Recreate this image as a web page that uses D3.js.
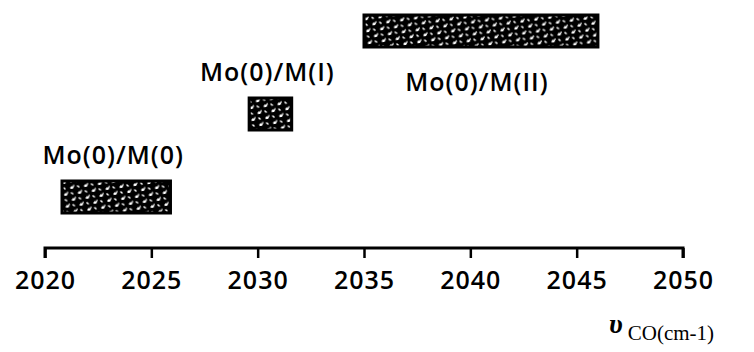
<!DOCTYPE html>
<html><head><meta charset="utf-8">
<script src="https://cdn.jsdelivr.net/npm/d3@7"></script>
<style>
html,body{margin:0;padding:0;background:#fff;}
svg{display:block;}
.lbl{font-family:"Open Sans",sans-serif;font-size:25px;font-weight:600;fill:#000;letter-spacing:1px;}
</style></head>
<body>
<svg id="c" width="754" height="352"></svg>
<script>
const categories = ["Mo(0)/M(0)", "Mo(0)/M(I)", "Mo(0)/M(II)"];
const startValues = [2020.8, 2029.6, 2035.0];
const endValues = [2025.9, 2031.6, 2046.0];
const labelSide = ["above", "above", "below"];
const tickValues = [2020, 2025, 2030, 2035, 2040, 2045, 2050];
const axisTitleSymbol = "υ";
const axisTitleSub = "CO(cm-1)";

const svg = d3.select("#c");
const x = d3.scaleLinear().domain([2020, 2050]).range([45, 683]);
const y = d3.scalePoint().domain(categories).range([197, 31]);
const barH = 32;

// pattern: black with irregular white speckles
const defs = svg.append("defs");
const pat = defs.append("pattern").attr("id","speck").attr("patternUnits","userSpaceOnUse")
  .attr("width",14).attr("height",12).attr("patternTransform","rotate(-8)");
pat.append("rect").attr("width",14).attr("height",12).attr("fill","#000");
pat.append("path")
  .attr("d","M1,4 L3,2 L4,3 L5,1 L6,2 L4,5 L2,5 Z M8,10 L10,8 L11,9 L12,7 L13,8 L11,11 L9,11 Z M8,3 L9,2 L11,4 L10,5 Z M1,9 L2,8 L4,10 L3,11 Z")
  .attr("fill","#fff");

const data = categories.map((c,i)=>({c, s:startValues[i], e:endValues[i], side:labelSide[i]}));

svg.selectAll("rect.bar").data(data).join("rect").attr("class","bar")
  .attr("x", d=>x(d.s)).attr("width", d=>x(d.e)-x(d.s))
  .attr("y", d=>y(d.c)-barH/2).attr("height", barH)
  .attr("fill","url(#speck)").attr("stroke","#000").attr("stroke-width",3);

svg.selectAll("text.lbl").data(data).join("text").attr("class","lbl")
  .attr("x", d=>(x(d.s)+x(d.e))/2 + (d.side==="below" ? -4 : -3))
  .attr("y", d=> d.side==="above" ? y(d.c)-barH/2-17 : y(d.c)+barH/2+44)
  .attr("text-anchor","middle").text(d=>d.c);

// axis
const axisG = svg.append("g").attr("transform","translate(0,248)");
const axis = d3.axisBottom(x).tickValues(tickValues).tickFormat(d3.format("d")).tickSize(10).tickPadding(13);
axisG.call(axis);
axisG.select(".domain").attr("d", `M${x(2020)},10V0H${x(2050)}V10`).attr("stroke","#000").attr("stroke-width",3);
axisG.selectAll(".tick line").attr("stroke","#000").attr("stroke-width",2.5);
axisG.selectAll(".tick text").attr("class","lbl").attr("fill","#000").style("font-size","25px").attr("dy","0.71em");

// axis title
const t = svg.append("text").attr("x", 609).attr("y", 333)
  .style("font-family","'Liberation Serif',serif").style("fill","#000");
t.append("tspan").style("font-size","28px").style("font-style","italic").style("font-weight","bold").text(axisTitleSymbol);
t.append("tspan").attr("dx",5).attr("dy",7).style("font-size","21px").text(axisTitleSub);
</script>
</body></html>
